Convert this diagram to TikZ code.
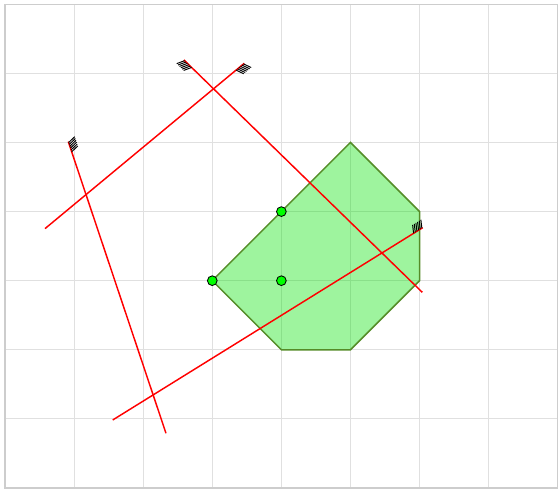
\documentclass[tikz,border=0pt]{standalone}
\usepackage{xcolor}
\usepackage{tikz}
\usetikzlibrary{calc}

\definecolor{gridgray}{RGB}{224,224,224}
\definecolor{framegray}{RGB}{205,205,205}
\definecolor{polyedge}{RGB}{85,140,40}

\begin{document}
\begin{tikzpicture}[x=1cm,y=1cm,
		pt/.style={circle,draw,fill=green,inner sep=0pt,minimum size=4pt,line width=0.35pt},
		half/.style={red,line width=0.6pt},
		hatch/.style={black,line width=0.4pt}]
	
	\useasboundingbox (-0.072,-0.014) rectangle (8.032,7.062);
	\draw[gridgray,line width=0.4pt] (0,0) grid (8,7);
	\draw[framegray,line width=0.5pt] (0,0) rectangle (8,7);
	
	\draw[fill={rgb,255:red,0;green,225;blue,0},fill opacity=0.38,draw=polyedge,line width=0.6pt]
		(3,3) -- (5,5) -- (6,4) -- (6,3) -- (5,2) -- (4,2) -- cycle;
	
	\coordinate (l1a) at (3.463,6.146);
	\coordinate (l1b) at (0.579,3.753);
	\coordinate (l2a) at (2.590,6.194);
	\coordinate (l2b) at (6.039,2.832);
	\coordinate (l3a) at (0.916,5.012);
	\coordinate (l3b) at (2.330,0.792);
	\coordinate (l4a) at (6.045,3.767);
	\coordinate (l4b) at (1.559,0.984);
	
	\draw[half] (l1a) -- (l1b);
	\draw[half] (l2a) -- (l2b);
	\draw[half] (l3a) -- (l3b);
	\draw[half] (l4a) -- (l4b);
	
	\foreach \a/\b/\s in {l1a/l1b/115,l2a/l2b/-115,l3a/l3b/115,l4a/l4b/-115}{
		\foreach \d in {0.4,1.2,...,5.2}{
			\path ($(\a)!\d pt!(\b)$) coordinate (t);
			\draw[hatch] (t) -- ($(t)!3.5pt!\s:(\b)$);
		}
	}
	
	\node[pt] (1) at (3,3) {};
	\node[pt] (2) at (4,4) {};
	\node[pt] (3) at (4,3) {};
	
\end{tikzpicture}
\end{document}
